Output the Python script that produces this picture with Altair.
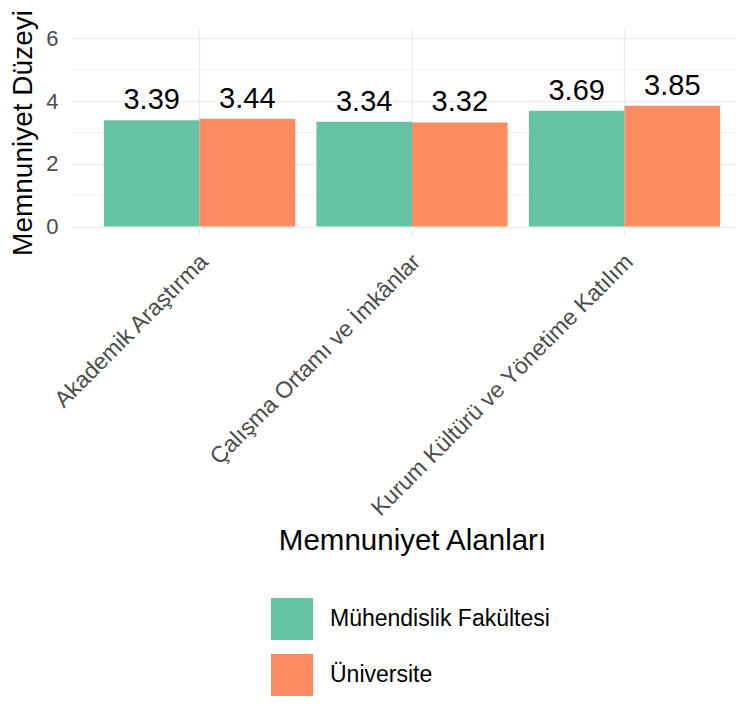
import altair as alt
import pandas as pd

categories = ["Akademik Araştırma", "Çalışma Ortamı ve İmkânlar", "Kurum Kültürü ve Yönetime Katılım"]
groups = ["Mühendislik Fakültesi", "Üniversite"]
muhendislik = [3.39, 3.34, 3.69]
universite = [3.44, 3.32, 3.85]
major_ticks = [0, 2, 4, 6]
minor_ticks = [1, 3, 5]
colors = ["#66C2A5", "#FC8D62"]

rows = []
for i, c in enumerate(categories):
    rows.append({"alan": c, "grup": groups[0], "deger": muhendislik[i]})
    rows.append({"alan": c, "grup": groups[1], "deger": universite[i]})
df = pd.DataFrame(rows)
minor_df = pd.DataFrame({"deger": minor_ticks})

FONT = "Liberation Sans"

yscale = alt.Scale(domain=[-0.3, 6.3], nice=False, zero=False)
xscale = alt.Scale(domain=categories, range=[0, 680], paddingInner=0.1, paddingOuter=0.15)

x_axis = alt.Axis(
    title="Memnuniyet Alanları",
    titleFontSize=29.5,
    titleFontWeight="normal",
    titleColor="black",
    titleX=340,
    titleY=313,
    titleBaseline="alphabetic",
    titleAlign="center",
    labelAngle=315,
    labelAlign="right",
    labelBaseline="top",
    labelFontSize=23,
    labelColor="#4D4D4D",
    labelPadding=14,
    labelOffset=-3,
    labelLimit=600,
    ticks=False,
    domain=False,
    grid=True,
    gridColor="#EBEBEB",
    gridWidth=1.2,
    bandPosition=0.5,
)

y_axis = alt.Axis(
    title="Memnuniyet Düzeyi",
    titleFontSize=28,
    titleFontWeight="normal",
    titleColor="black",
    titlePadding=8,
    values=major_ticks,
    labelFontSize=22,
    labelColor="#4D4D4D",
    labelPadding=14,
    ticks=False,
    domain=False,
    grid=True,
    gridColor="#EBEBEB",
    gridWidth=1.2,
)

minor = alt.Chart(minor_df).mark_rule(color="#EBEBEB", strokeWidth=0.7).encode(
    y=alt.Y("deger:Q", scale=yscale, axis=y_axis)
)

bars = alt.Chart(df).mark_bar().encode(
    x=alt.X("alan:N", sort=categories, scale=xscale, axis=x_axis),
    xOffset=alt.XOffset("grup:N", sort=groups),
    y=alt.Y("deger:Q", scale=yscale, axis=y_axis),
    y2=alt.datum(0),
    color=alt.Color(
        "grup:N",
        sort=groups,
        scale=alt.Scale(domain=groups, range=colors),
        legend=alt.Legend(
            title=None,
            orient="none",
            legendX=199,
            legendY=569,
            direction="vertical",
            symbolType="square",
            symbolSize=1764,
            symbolStrokeWidth=0,
            symbolOpacity=1,
            labelFontSize=23,
            labelColor="black",
            labelOffset=17,
            labelLimit=600,
            rowPadding=14,
            padding=0,
        ),
    ),
)

labels = alt.Chart(df).mark_text(
    fontSize=29, baseline="alphabetic", dy=-11, color="black", font=FONT
).encode(
    x=alt.X("alan:N", sort=categories, scale=xscale, axis=x_axis),
    xOffset=alt.XOffset("grup:N", sort=groups),
    y=alt.Y("deger:Q", scale=yscale, axis=y_axis),
    text=alt.Text("deger:Q", format=".2f"),
)

chart = (
    alt.layer(minor, bars, labels)
    .properties(
        width=664,
        height=207,
        padding={"left": 64, "top": 21, "right": 0, "bottom": 460},
        autosize=alt.AutoSizeParams(type="none"),
    )
    .configure(font=FONT)
    .configure_view(stroke=None)
)

chart.save("out.html", embed_options={"renderer": "svg", "actions": False})
